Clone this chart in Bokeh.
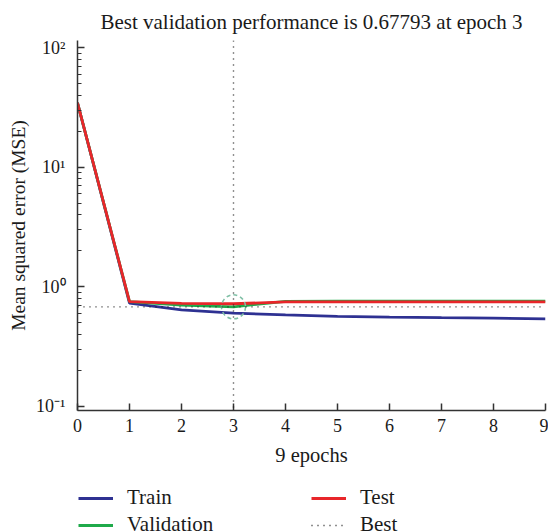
from bokeh.plotting import figure
from bokeh.models import Range1d, Span, Legend, LegendItem, FixedTicker
from bokeh.layouts import column
from bokeh.embed import file_html
from bokeh.resources import INLINE

# ---- data ----
epochs = [0, 1, 2, 3, 4, 5, 6, 7, 8, 9]
train_mse = [34.5, 0.73, 0.64, 0.60, 0.58, 0.565, 0.557, 0.55, 0.545, 0.538]
validation_mse = [34.5, 0.75, 0.70, 0.67793, 0.755, 0.758, 0.758, 0.758, 0.758, 0.758]
test_mse = [34.5, 0.75, 0.726, 0.72, 0.745, 0.745, 0.745, 0.745, 0.745, 0.745]
best_epoch = 3
best_value = 0.67793
x_ticks = [0, 1, 2, 3, 4, 5, 6, 7, 8, 9]
y_tick_values = [0.1, 1, 10, 100]
y_tick_labels = ["10\u207b\u00b9", "10\u2070", "10\u00b9", "10\u00b2"]
legend_labels = ["Train", "Validation", "Test", "Best"]
title_text = "Best validation performance is 0.67793 at epoch 3"
x_label = "9 epochs"
y_label = "Mean squared error (MSE)"

FONT = "Liberation Serif"
AX = "#333333"
TXT = "#1a1a1a"
C_TRAIN, C_VAL, C_TEST, C_BEST = "#2e3192", "#1faa4a", "#e8262a", "#222222"
C_CIRCLE = "#7fbfa5"

p = figure(output_backend="svg", toolbar_location=None, tools="",
           y_axis_type="log",
           x_range=Range1d(0, 9), y_range=Range1d(0.092, 115),
           frame_width=468, frame_height=370,
           min_border_left=77, min_border_right=3,
           min_border_top=38, min_border_bottom=70)
p.outline_line_color = None
p.grid.visible = False
p.background_fill_color = "white"
p.border_fill_color = "white"

p.title.text = title_text
p.title.text_font = FONT
p.title.text_font_size = "21px"
p.title.text_font_style = "normal"
p.title.text_color = TXT
p.title.align = "center"
p.title.standoff = 14

# axes
p.xaxis.ticker = FixedTicker(ticks=x_ticks)
minor = [m * 10.0 ** e for e in (-1, 0, 1) for m in range(2, 10)]
p.yaxis.ticker = FixedTicker(ticks=y_tick_values, minor_ticks=minor)
p.yaxis.major_label_overrides = dict(zip(y_tick_values, y_tick_labels))
for ax in (p.xaxis, p.yaxis):
    ax.axis_line_color = AX
    ax.axis_line_width = 1.5
    ax.major_tick_line_color = AX
    ax.major_tick_line_width = 1.5
    ax.major_tick_in = 7
    ax.major_tick_out = 0
    ax.minor_tick_line_color = AX
    ax.minor_tick_line_width = 1.2
    ax.minor_tick_in = 4
    ax.minor_tick_out = 0
    ax.major_label_text_font = FONT
    ax.major_label_text_font_size = "18px"
    ax.major_label_text_color = TXT
    ax.axis_label_text_font = FONT
    ax.axis_label_text_font_style = "normal"
    ax.axis_label_text_color = TXT
p.xaxis.axis_label = x_label
p.yaxis.axis_label = y_label
p.xaxis.axis_label_text_font_size = "20.5px"
p.yaxis.axis_label_text_font_size = "19.5px"
p.xaxis.major_label_standoff = 8
p.xaxis.axis_label_standoff = 9
p.yaxis.major_label_standoff = 12
p.yaxis.axis_label_standoff = 4

# best markers
p.add_layout(Span(location=best_epoch, dimension="height", line_color=C_BEST,
                  line_dash="1 5", line_width=1.4))
p.add_layout(Span(location=best_value, dimension="width", line_color=C_BEST,
                  line_dash="1 5", line_width=1.4))

p.line(epochs, train_mse, line_color=C_TRAIN, line_width=2.8)
p.line(epochs, validation_mse, line_color=C_VAL, line_width=2.8)
p.line(epochs, test_mse, line_color=C_TEST, line_width=2.8)
p.scatter([best_epoch], [best_value], size=24, fill_color=None,
          line_color=C_CIRCLE, line_dash="4 3", line_width=1.5)

# legend strip below the chart (its own frame; series drawn out of view, used as legend keys)
main_h = 38 + 370 + 70
q = figure(output_backend="svg", toolbar_location=None, tools="",
           width=548, height=532 - main_h, x_axis_type=None, y_axis_type=None,
           x_range=Range1d(0, 9), y_range=Range1d(-2, -1),
           min_border=0, min_border_left=0, min_border_right=0,
           min_border_top=0, min_border_bottom=0)
q.outline_line_color = None
q.grid.visible = False
q.background_fill_color = "white"
q.border_fill_color = "white"
l_train = q.line(epochs, train_mse, line_color=C_TRAIN, line_width=2.8)
l_val = q.line(epochs, validation_mse, line_color=C_VAL, line_width=2.8)
l_test = q.line(epochs, test_mse, line_color=C_TEST, line_width=2.8)
l_best = q.line(epochs, validation_mse, line_color=C_BEST, line_dash="1 5", line_width=1.4)

legend = Legend(items=[LegendItem(label=legend_labels[0], renderers=[l_train]),
                       LegendItem(label=legend_labels[1], renderers=[l_val]),
                       LegendItem(label=legend_labels[2], renderers=[l_test]),
                       LegendItem(label=legend_labels[3], renderers=[l_best])],
                location=(1, -3), orientation="vertical", nrows=2,
                glyph_width=35, glyph_height=24, label_height=24, label_width=182,
                label_standoff=14, spacing=2, padding=0, margin=0,
                border_line_color=None, background_fill_alpha=0,
                label_text_font=FONT, label_text_font_size="21px",
                label_text_color=TXT)
q.add_layout(legend, "center")

open("out.html", "w").write(file_html(column(p, q, spacing=0), INLINE))
